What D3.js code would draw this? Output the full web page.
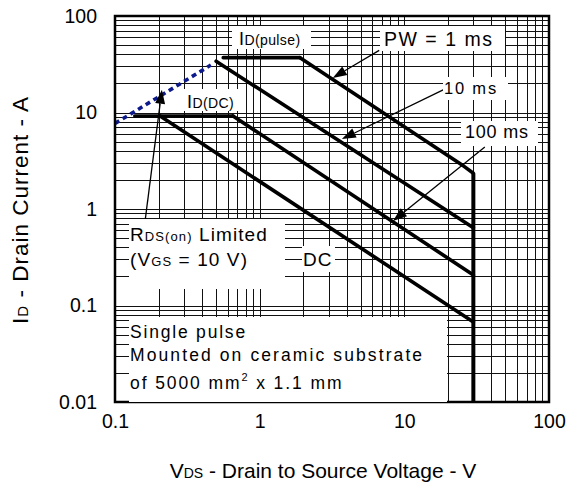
<!DOCTYPE html>
<html>
<head>
<meta charset="utf-8">
<script src="https://cdn.jsdelivr.net/npm/d3@7/dist/d3.min.js"></script>
<style>
  body { margin: 0; background: #fff; }
  svg { display: block; }
  text { font-family: "Liberation Sans", Arial, Helvetica, sans-serif; fill: #000; }
</style>
</head>
<body>
<svg id="chart" width="566" height="485"></svg>
<script>
// ---- data (V in volts, I in amps) ----
const xTicks = [0.1, 1, 10, 100];
const xTickLabels = ['0.1', '1', '10', '100'];
const yTicks = [0.01, 0.1, 1, 10, 100];
const yTickLabels = ['0.01', '0.1', '1', '10', '100'];

const rdsLimit = [[0.1, 7.7], [0.46, 31]];
const idPulse = [[0.56, 37], [1.9, 37]];
const pw1ms = [[1.9, 37], [26, 2.75], [30, 2.35]];
const pw10ms = [[0.5, 34], [30, 0.64]];
const idDC = [[0.137, 9.2], [0.654, 9.2]];
const pw100ms = [[0.654, 9.2], [30, 0.207]];
const dcLine = [[0.205, 9.2], [30, 0.0675]];
const vdssLimit = [[30, 2.35], [30, 0.01]];

// arrows: [from, tip] in data units
const arrows = [
    [[6.7, 44], [3.2, 22.8]],      // PW = 1 ms
    [[19, 17.5], [3.7, 5.3]],      // 10 ms
    [[36, 4.4], [8.35, 0.75]],     // 100 ms
    [[0.161, 0.73], [0.211, 17.2]] // RDS(on)
];

const svg = d3.select('#chart');
const W = 566, H = 485;
const MARGIN = { top: 16, right: 17, bottom: 83, left: 115 };
const PW = W - MARGIN.left - MARGIN.right;
const PH = H - MARGIN.top - MARGIN.bottom;

svg.append('rect').attr('width', W).attr('height', H).attr('fill', '#fff');

const x = d3.scaleLog().domain([0.1, 100]).range([0, PW]);
const y = d3.scaleLog().domain([0.01, 100]).range([PH, 0]);

const g = svg.append('g')
    .attr('transform', `translate(${MARGIN.left},${MARGIN.top})`);

// log grid: 1..9 in every decade
const minor = [];
for (let e = -2; e < 2; e++) {
    for (let k = 1; k < 10; k++) minor.push(k * Math.pow(10, e));
}
const xGrid = minor.filter(v => v > 0.1 && v < 100);
const yGrid = minor.filter(v => v > 0.01 && v < 100);

g.append('g')
    .attr('class', 'grid')
    .attr('transform', `translate(0,${PH})`)
    .call(d3.axisBottom(x).tickValues(xGrid).tickSize(-PH).tickFormat(''))
    .call(s => s.select('.domain').remove())
    .selectAll('line')
    .attr('stroke', '#111')
    .attr('stroke-width', 1)
    .attr('shape-rendering', 'crispEdges');

g.append('g')
    .attr('class', 'grid')
    .call(d3.axisLeft(y).tickValues(yGrid).tickSize(-PW).tickFormat(''))
    .call(s => s.select('.domain').remove())
    .selectAll('line')
    .attr('stroke', '#111')
    .attr('stroke-width', 1)
    .attr('shape-rendering', 'crispEdges');

// white label boxes that hide the grid (pixel coords on the page)
const boxes = [
    [232, 26, 311, 49],   // ID(pulse)
    [380, 26, 505, 51],   // PW = 1 ms
    [443, 77, 508, 100],  // 10 ms
    [461, 121, 538, 146], // 100 ms
    [183, 89, 238, 111],  // ID(DC)
    [129, 219, 285, 289], // RDS(on)
    [302, 246, 335, 272], // DC
    [129, 317, 447, 402]  // single pulse note
];
svg.append('g').selectAll('rect')
    .data(boxes)
    .join('rect')
    .attr('x', d => d[0])
    .attr('y', d => d[1])
    .attr('width', d => d[2] - d[0])
    .attr('height', d => d[3] - d[1])
    .attr('fill', '#fff');

// curves
svg.append('defs').append('clipPath').attr('id', 'plot-clip')
    .append('rect').attr('width', PW).attr('height', PH);

const line = d3.line().x(d => x(d[0])).y(d => y(d[1]));
const curves = g.append('g').attr('clip-path', 'url(#plot-clip)');

[idPulse, pw1ms, pw10ms, idDC, pw100ms, dcLine].forEach(s => {
    curves.append('path')
        .attr('d', line(s))
        .attr('fill', 'none')
        .attr('stroke', '#000')
        .attr('stroke-width', 3.6)
        .attr('stroke-linejoin', 'round')
        .attr('stroke-linecap', 'round');
});

curves.append('path')
    .attr('d', line(vdssLimit))
    .attr('fill', 'none')
    .attr('stroke', '#000')
    .attr('stroke-width', 4);

curves.append('path')
    .attr('d', line(rdsLimit))
    .attr('fill', 'none')
    .attr('stroke', '#0d1a8c')
    .attr('stroke-width', 3.6)
    .attr('stroke-dasharray', '5,4');

// arrows
arrows.forEach(([from, tip]) => {
    const x0 = x(from[0]), y0 = y(from[1]);
    const x1 = x(tip[0]), y1 = y(tip[1]);
    const ang = Math.atan2(y1 - y0, x1 - x0);
    const len = 14, half = 5;
    const bx = x1 - len * Math.cos(ang), by = y1 - len * Math.sin(ang);
    g.append('line')
        .attr('x1', x0).attr('y1', y0)
        .attr('x2', bx).attr('y2', by)
        .attr('stroke', '#000')
        .attr('stroke-width', 1.3);
    const px = -Math.sin(ang) * half, py = Math.cos(ang) * half;
    g.append('path')
        .attr('d', `M${x1},${y1}L${bx + px},${by + py}L${bx - px},${by - py}Z`)
        .attr('fill', '#000');
});

// plot border
g.append('rect')
    .attr('width', PW)
    .attr('height', PH)
    .attr('fill', 'none')
    .attr('stroke', '#000')
    .attr('stroke-width', 2.5);

// annotation text: parts are [text, fontSize, dy]
function label(px, py, parts, ls) {
    const t = svg.append('text')
        .attr('x', px)
        .attr('y', py)
        .style('letter-spacing', `${ls}px`);
    parts.forEach(p => {
        t.append('tspan')
            .attr('font-size', p[1])
            .attr('dy', p[2] || 0)
            .text(p[0]);
    });
    return t;
}

label(239, 45, [['I', 18], ['D(pulse)', 14]], 0.4);
label(384, 46, [['PW = 1 ms', 19.5]], 1.5);
label(444, 94, [['10 ms', 16.5]], 1.8);
label(465, 138, [['100 ms', 18]], 0.8);
label(187, 108, [['I', 18], ['D(DC)', 14]], 0.4);
label(130, 241, [['R', 19], ['DS(on)', 13], [' Limited', 19]], 1.1);
label(130, 266, [['(V', 19], ['GS', 13], [' = 10 V)', 19]], 1.1);
label(303, 266, [['DC', 19]], 1.1);
label(130, 338, [['Single pulse', 17.5]], 1.8);
label(130, 361, [['Mounted on ceramic substrate', 17.5]], 2.1);
label(130, 389, [['of 5000 mm', 17.5], ['2', 11, -8], [' x 1.1 mm', 17.5, 8]], 1.9);

// tick labels
const xAxis = g.append('g')
    .attr('transform', `translate(0,${PH})`)
    .call(d3.axisBottom(x).tickValues(xTicks)
        .tickFormat((d, i) => xTickLabels[i])
        .tickSize(0).tickPadding(12));
xAxis.select('.domain').remove();
xAxis.selectAll('text')
    .attr('font-size', 19.5)
    .attr('font-family', '"Liberation Sans", Arial, sans-serif');

const yAxis = g.append('g')
    .call(d3.axisLeft(y).tickValues(yTicks)
        .tickFormat((d, i) => yTickLabels[i])
        .tickSize(0).tickPadding(18));
yAxis.select('.domain').remove();
yAxis.selectAll('text')
    .attr('font-size', 19.5)
    .attr('font-family', '"Liberation Sans", Arial, sans-serif');

// axis titles
const xTitle = svg.append('text')
    .attr('x', 323)
    .attr('y', 478)
    .attr('text-anchor', 'middle');
xTitle.append('tspan').attr('font-size', 21).text('V');
xTitle.append('tspan').attr('font-size', 14).text('DS');
xTitle.append('tspan').attr('font-size', 21).text(' - Drain to Source Voltage - V');

const yTitle = svg.append('text')
    .attr('transform', 'translate(28,210) rotate(-90)')
    .attr('text-anchor', 'middle')
    .style('letter-spacing', '1px');
yTitle.append('tspan').attr('font-size', 22.5).text('I');
yTitle.append('tspan').attr('font-size', 15).text('D');
yTitle.append('tspan').attr('font-size', 22.5).text(' - Drain Current - A');
</script>
</body>
</html>
